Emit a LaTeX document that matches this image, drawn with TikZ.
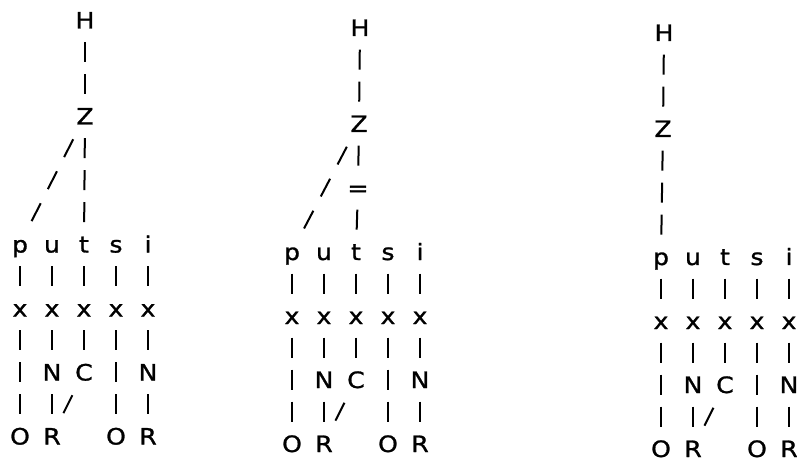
\documentclass[tikz,border=0pt]{standalone}
\usepackage{fontspec}
\setmainfont{DejaVu Sans}
\newfontfamily\chfont{DejaVu Sans}[FakeBold=1.2, FakeStretch=1.12]
% lower part of one tree: rows 7..13, columns p u t s i
\newcommand{\lowerpart}[1]{%
  \node[ch] (#1-p) at (0,224) {p};
  \node[ch] (#1-u) at (32,224) {u};
  \node[ch] (#1-t) at (64,224) {t};
  \node[ch] (#1-s) at (96,224) {s};
  \node[ch] (#1-i) at (128,224) {i};
  \node[ch] (#1-xp) at (0,288) {x};
  \node[ch] (#1-xu) at (32,288) {x};
  \node[ch] (#1-xt) at (64,288) {x};
  \node[ch] (#1-xs) at (96,288) {x};
  \node[ch] (#1-xi) at (128,288) {x};
  \node[ch] (#1-Nu) at (32,352) {N};
  \node[ch] (#1-C) at (64,352) {C};
  \node[ch] (#1-Ni) at (128,352) {N};
  \node[ch] (#1-Op) at (0,416) {O};
  \node[ch] (#1-Ru) at (32,416) {R};
  \node[ch] (#1-Os) at (96,416) {O};
  \node[ch] (#1-Ri) at (128,416) {R};
  \draw[vbar] (#1-p) -- (#1-xp);
  \draw[vbar] (#1-u) -- (#1-xu);
  \draw[vbar] (#1-t) -- (#1-xt);
  \draw[vbar] (#1-s) -- (#1-xs);
  \draw[vbar] (#1-i) -- (#1-xi);
  \draw[vbar] (#1-xp) -- (#1-Op);
  \draw[vbar] (#1-xu) -- (#1-Nu);
  \draw[vbar] (#1-Nu) -- (#1-Ru);
  \draw[vbar] (#1-xt) -- (#1-C);
  \draw[diag={15.8pt}{23.4pt}] (#1-C) -- (#1-Ru);
  \draw[vbar] (#1-xs) -- (#1-Os);
  \draw[vbar] (#1-xi) -- (#1-Ni);
  \draw[vbar] (#1-Ni) -- (#1-Ri);
}
\begin{document}
\begin{tikzpicture}[x=1pt,y=-1pt,
  ch/.style={inner sep=0pt, minimum width=14pt, minimum height=24pt,
    text height=17pt, text depth=0pt, font=\chfont\fontsize{22.5}{27}\selectfont},
  vbar/.style={line width=2pt, dash pattern=on 20pt off 12pt, dash phase=22pt},
  diag/.style n args={2}{line width=2pt, dash pattern=on 20pt off #1, dash phase=#2}]
\useasboundingbox (0,0) rectangle (797,462);

% tree 1
\begin{scope}[shift={(20,20)}]
  \node[ch] (a-H) at (65,0) {H};
  \node[ch] (a-Z) at (65,96) {Z};
  \lowerpart{a}
  \draw[vbar] (a-H) -- (a-Z);
  \draw[vbar] (a-Z) -- (a-t);
  \draw[diag={15.9pt}{23.5pt}] (a-Z) -- (a-p);
\end{scope}

% tree 2
\begin{scope}[shift={(292,27.5)}]
  \node[ch] (b-H) at (68,0) {H};
  \node[ch] (b-Z) at (67,96) {Z};
  \node[ch] (b-eq) at (66,160) {=};
  \lowerpart{b}
  \draw[vbar] (b-H) -- (b-Z);
  \draw[vbar] (b-Z) -- (b-eq);
  \draw[vbar] (b-eq) -- (b-t);
  \draw[diag={16.1pt}{23.6pt}] (b-Z) -- (b-p);
\end{scope}

% tree 3
\begin{scope}[shift={(661,32.5)}]
  \node[ch] (c-H) at (3,0) {H};
  \node[ch] (c-Z) at (2,96) {Z};
  \lowerpart{c}
  \draw[vbar] (c-H) -- (c-Z);
  \draw[vbar] (c-Z) -- (c-p);
\end{scope}
\end{tikzpicture}
\end{document}
